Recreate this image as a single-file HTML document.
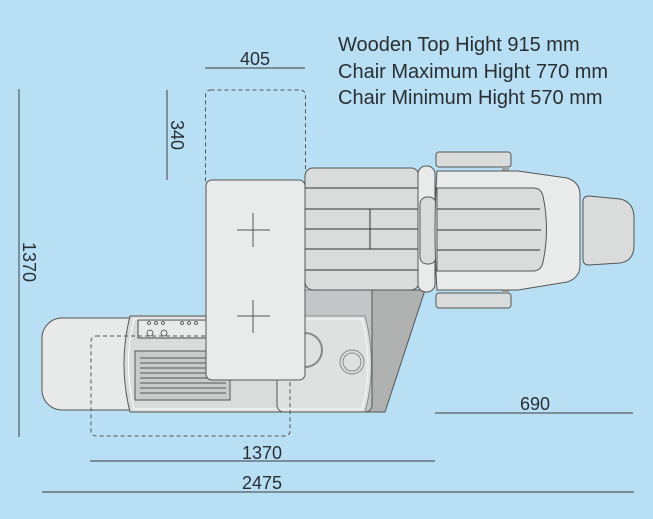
<!DOCTYPE html>
<html><head><meta charset="utf-8"><style>
html,body{margin:0;padding:0;background:#b8dff3;}
svg{display:block;}
text{font-family:"Liberation Sans",sans-serif;fill:#2a2f33;}
</style></head><body>
<svg width="653" height="519" viewBox="0 0 653 519" xmlns="http://www.w3.org/2000/svg">
<rect width="653" height="519" fill="#b8dff3"/>
<g font-size="20">
<text x="338" y="51">Wooden Top Hight 915 mm</text>
<text x="338" y="78">Chair Maximum Hight 770 mm</text>
<text x="338" y="104">Chair Minimum Hight 570 mm</text>
</g>
<g font-size="18">
<text x="255" y="65" text-anchor="middle">405</text>
<text x="535" y="410" text-anchor="middle">690</text>
<text x="262" y="459" text-anchor="middle">1370</text>
<text x="262" y="489" text-anchor="middle">2475</text>
<text transform="translate(171,135) rotate(90)" text-anchor="middle">340</text>
<text transform="translate(23,262) rotate(90)" text-anchor="middle">1370</text>
</g>
<g stroke="#555d63" stroke-width="1.2">
<line x1="205" y1="68" x2="305" y2="68"/>
<line x1="167" y1="90" x2="167" y2="180"/>
<line x1="19" y1="89" x2="19" y2="437"/>
<line x1="435" y1="413" x2="633" y2="413"/>
<line x1="90" y1="461" x2="435" y2="461"/>
<line x1="42" y1="492" x2="634" y2="492"/>
</g>
<rect x="205.5" y="90" width="100" height="95" rx="5" fill="none" stroke="#555" stroke-dasharray="4,3"/>
<!-- dark shadow trapezoid -->
<polygon points="305,290 425,290 385,412 305,412" fill="#b0b2b2" stroke="#555" stroke-width="1"/>
<!-- left foot pad -->
<path d="M60,318 H140 V410 H62 A20,20 0 0 1 42,390 V338 A20,20 0 0 1 62,318Z" fill="#e8eaea" stroke="#555"/>
<!-- base cabinet -->
<path d="M130,316 H365 Q378,364 365,412 H130 Q118,364 130,316Z" fill="#dadcdc" stroke="#555"/>
<path d="M134,319 H362 Q374,364 362,409 H134 Q123,364 134,319Z" fill="none" stroke="#fff" stroke-width="1"/>
<rect x="138" y="320" width="70" height="18" fill="#e8eaea" stroke="#444"/>
<g fill="none" stroke="#444" stroke-width="0.8">
<circle cx="149" cy="323" r="1.5"/><circle cx="156" cy="323" r="1.5"/><circle cx="163" cy="323" r="1.5"/>
<circle cx="182" cy="323" r="1.5"/><circle cx="189" cy="323" r="1.5"/><circle cx="196" cy="323" r="1.5"/>
<circle cx="150" cy="333" r="3"/><circle cx="164" cy="333" r="3"/>
</g>
<rect x="135" y="351" width="95" height="49" fill="#c9cbcb" stroke="#555"/>
<g stroke="#555" stroke-width="1">
<line x1="140" y1="358" x2="226" y2="358"/><line x1="140" y1="363" x2="226" y2="363"/>
<line x1="140" y1="368" x2="226" y2="368"/><line x1="140" y1="373" x2="226" y2="373"/>
<line x1="140" y1="378" x2="226" y2="378"/><line x1="140" y1="383" x2="226" y2="383"/>
<line x1="140" y1="388" x2="226" y2="388"/><line x1="140" y1="393" x2="226" y2="393"/>
</g>
<circle cx="352" cy="362" r="12" fill="none" stroke="#555"/>
<circle cx="352" cy="362" r="9" fill="none" stroke="#555"/>
<path d="M305,333 A17,17 0 0 1 305,367" fill="none" stroke="#555" stroke-width="2"/>
<!-- transparent overlay -->
<rect x="277" y="281" width="95" height="131" rx="7" fill="#e8eaea" fill-opacity="0.35" stroke="#555"/>
<!-- dashed rect -->
<rect x="91" y="336" width="199" height="100" rx="5" fill="none" stroke="#555" stroke-dasharray="4,3"/>
<!-- wooden top -->
<rect x="206" y="180" width="99" height="200" rx="6" fill="#e9ebeb" stroke="#555"/>
<g stroke="#555" stroke-width="1">
<line x1="237" y1="230" x2="270" y2="230"/><line x1="253" y1="213" x2="253" y2="247"/>
<line x1="237" y1="316" x2="270" y2="316"/><line x1="253" y1="300" x2="253" y2="333"/>
</g>
<!-- seat block -->
<rect x="305" y="168" width="114" height="122" rx="8" fill="#dadcdc" stroke="#555"/>
<g stroke="#333" stroke-width="1">
<line x1="305" y1="188" x2="418" y2="188"/><line x1="305" y1="209" x2="418" y2="209"/>
<line x1="305" y1="229" x2="418" y2="229"/><line x1="305" y1="249" x2="418" y2="249"/>
<line x1="305" y1="270" x2="418" y2="270"/><line x1="370" y1="209" x2="370" y2="249"/>
</g>
<!-- joint -->
<rect x="418" y="166" width="17" height="126" rx="8" fill="#e9ebeb" stroke="#555"/>
<rect x="420" y="197" width="16" height="67" rx="7" fill="#dadcdc" stroke="#555"/>
<!-- armrests -->
<rect x="436" y="152" width="75" height="15" rx="3" fill="#dadcdc" stroke="#555"/>
<rect x="436" y="293" width="75" height="15" rx="3" fill="#dadcdc" stroke="#555"/>
<rect x="502" y="167" width="7" height="4" fill="#a0a2a2"/>
<rect x="502" y="289" width="7" height="4" fill="#a0a2a2"/>
<!-- backrest -->
<path d="M437,171 H518 L567,178 Q580,182 580,195 V265 Q580,278 567,282 L518,290 H437 Q433,230 437,171Z" fill="#e9ebeb" stroke="#555"/>
<path d="M437,188 H533 Q541,188 543,196 Q550,229 543,262 Q541,271 533,271 H437Z" fill="#dadcdc" stroke="#555"/>
<g stroke="#333"><line x1="437" y1="209" x2="540" y2="209"/><line x1="437" y1="230" x2="541" y2="230"/><line x1="437" y1="250" x2="540" y2="250"/></g>
<!-- headrest -->
<path d="M589,196 L620,199 Q634,202 634,218 V245 Q634,261 620,263 L589,265 Q583,265 583,259 V202 Q583,196 589,196Z" fill="#dadcdc" stroke="#555"/>
</svg>
</body></html>
